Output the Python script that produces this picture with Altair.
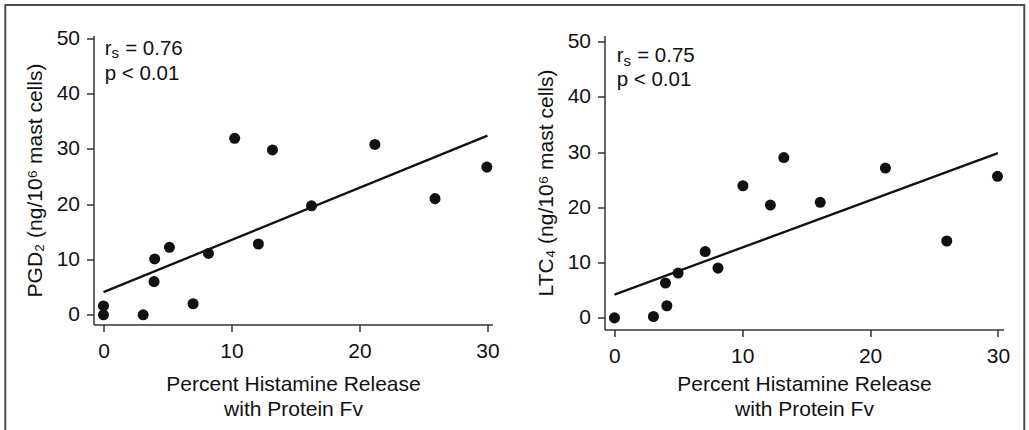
import altair as alt
import pandas as pd

FONT = "Liberation Sans"
INK = "#111111"
AXIS_INK = "#333333"
BORDER = "#4d4d4d"

# ---- data ----
pgd_x = [0, 0, 3.1, 4.0, 3.95, 5.15, 7.0, 8.2, 10.25, 12.1, 13.2, 16.25, 21.2, 25.9, 29.95]
pgd_y = [0, 1.6, 0, 10.1, 6.0, 12.2, 2.0, 11.1, 31.9, 12.8, 29.8, 19.7, 30.8, 21.0, 26.7]
ltc_x = [0, 3.05, 3.99, 4.1, 4.98, 7.1, 8.1, 10.05, 12.2, 13.25, 16.1, 21.2, 26.0, 29.97]
ltc_y = [0, 0.25, 6.3, 2.2, 8.1, 12.0, 9.0, 23.9, 20.4, 29.0, 20.9, 27.1, 13.9, 25.6]

pgd_fit_x = [0, 30]
pgd_fit_y = [4.1, 32.4]
ltc_fit_x = [0, 30]
ltc_fit_y = [4.2, 29.8]

x_ticks = [0, 10, 20, 30]
y_ticks = [0, 10, 20, 30, 40, 50]
x_title = ["Percent Histamine Release", "with Protein Fv"]
pgd_title = "PGD₂ (ng/10⁶ mast cells)"
ltc_title = "LTC₄ (ng/10⁶ mast cells)"
pgd_r = "= 0.76"
ltc_r = "= 0.75"
p_text = "p < 0.01"


def panel(px, py, fx, fy, ytitle, rtext, note_x, note_y1, note_y2,
          x_dom, y_dom, h, title_y, border):
    X = alt.X("x:Q",
              scale=alt.Scale(domain=x_dom, nice=False, zero=False),
              axis=alt.Axis(values=x_ticks, title=x_title, tickSize=7,
                            labelPadding=9, labelFlush=False, labelOverlap=False,
                            titleY=title_y, titleBaseline="alphabetic",
                            titleLineHeight=24.5, grid=False))
    Y = alt.Y("y:Q",
              scale=alt.Scale(domain=y_dom, nice=False, zero=False),
              axis=alt.Axis(values=y_ticks, title=ytitle, tickSize=7,
                            labelPadding=7, labelFlush=False, labelOverlap=False,
                            titleX=-52.5, titleBaseline="alphabetic", grid=False))

    pts = alt.Chart(pd.DataFrame({"x": px, "y": py})).mark_circle(
        size=122, color=INK, opacity=1).encode(x=X, y=Y)
    fit = alt.Chart(pd.DataFrame({"x": fx, "y": fy})).mark_line(
        color=INK, strokeWidth=2.3).encode(x=X, y=Y)

    l1 = pd.DataFrame({"x": [note_x], "y": [note_y1]})
    l2 = pd.DataFrame({"x": [note_x], "y": [note_y2]})
    t_r = alt.Chart(l1).mark_text(align="left", baseline="alphabetic", fontSize=20.5,
                                  font=FONT, color=INK).encode(
        x=X, y=Y, text=alt.value("r"))
    t_s = alt.Chart(l1).mark_text(align="left", baseline="alphabetic", fontSize=15,
                                  font=FONT, color=INK, dx=6.9, dy=3.8).encode(
        x=X, y=Y, text=alt.value("s"))
    t_eq = alt.Chart(l1).mark_text(align="left", baseline="alphabetic", fontSize=20.5,
                                   font=FONT, color=INK, dx=20.5).encode(
        x=X, y=Y, text=alt.value(rtext))
    t_p = alt.Chart(l2).mark_text(align="left", baseline="alphabetic", fontSize=20.5,
                                  font=FONT, color=INK).encode(
        x=X, y=Y, text=alt.value(p_text))

    layers = []
    if border:
        frame = alt.Chart(pd.DataFrame({"k": [0]})).mark_rect(
            fillOpacity=0, stroke=BORDER, strokeWidth=2).encode(
            x=alt.value(-88.2), x2=alt.value(930.8),
            y=alt.value(-30.5), y2=alt.value(460))
        layers.append(frame)
    layers += [fit, pts, t_r, t_s, t_eq, t_p]
    return alt.layer(*layers).properties(width=399, height=h)


left = panel(pgd_x, pgd_y, pgd_fit_x, pgd_fit_y, pgd_title, pgd_r,
             0.09, 47.05, 42.48, [-0.78, 30.39], [-1.75, 50.49], 289, 66, True)
right = panel(ltc_x, ltc_y, ltc_fit_x, ltc_fit_y, ltc_title, ltc_r,
              0.17, 46.3, 41.9, [-0.78, 30.44], [-2.1, 51.07], 294, 61, False)

chart = alt.hconcat(left, right, spacing=112, bounds="flush").properties(
    padding={"left": 3.5, "top": 3.5, "right": 0, "bottom": 0},
    background="white",
).configure_axis(
    labelFont=FONT, labelFontSize=21, labelColor=INK,
    titleFont=FONT, titleFontSize=21, titleFontWeight="normal", titleColor=INK,
    domainColor=AXIS_INK, tickColor=AXIS_INK, domainWidth=1.5, tickWidth=1.5,
).configure_view(strokeWidth=0)

chart.save("out.html", embed_options={"renderer": "svg", "actions": False})
